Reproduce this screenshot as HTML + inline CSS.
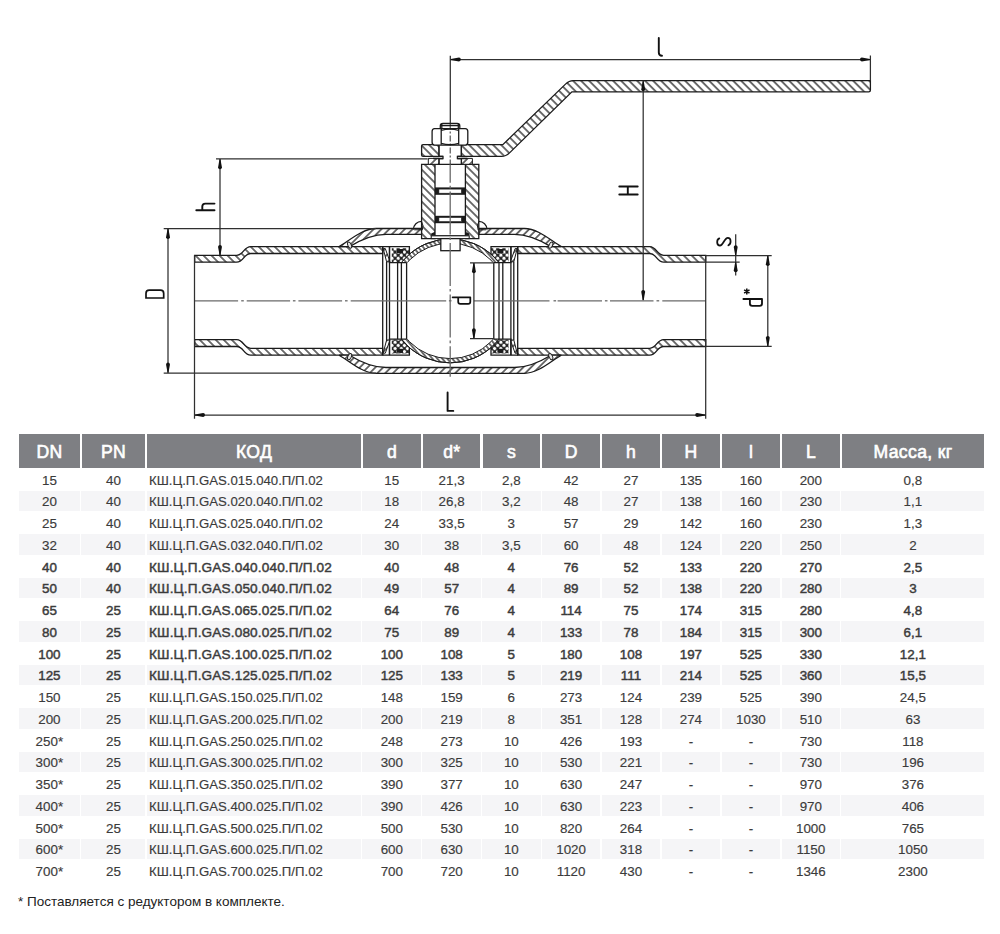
<!DOCTYPE html>
<html><head><meta charset="utf-8"><style>
html,body{margin:0;padding:0;background:#fff;}
body{width:1000px;height:934px;position:relative;overflow:hidden;font-family:"Liberation Sans",sans-serif;}
.hc{position:absolute;background:#7e7f83;color:#fff;font-size:17.6px;text-align:center;-webkit-text-stroke:0.6px #fff;letter-spacing:0.35px;text-indent:0.35px;}
.g{position:absolute;background:#f5f5f7;}
.c{position:absolute;height:21.75px;line-height:21.75px;font-size:13.4px;color:#3b3b3b;text-align:center;white-space:nowrap;-webkit-text-stroke:0.15px #3b3b3b;}
.c.b{-webkit-text-stroke:0.45px #3b3b3b;}
.c.k{text-align:left;font-size:13.2px;}
.c.b.k{font-size:13.6px;letter-spacing:0.15px;}
.fn{position:absolute;left:18px;top:892.5px;font-size:13.5px;color:#222;white-space:nowrap;line-height:18px;}
svg{position:absolute;left:0;top:0;}
</style></head><body>
<svg width="1000" height="430" viewBox="0 0 1000 430">
<defs>
<pattern id="hb" patternUnits="userSpaceOnUse" width="5.66" height="20" patternTransform="rotate(-45)"><rect width="5.66" height="20" fill="#fff"/><line x1="2.83" y1="0" x2="2.83" y2="20" stroke="#1b1b1b" stroke-width="1.25"/></pattern>
<pattern id="hf" patternUnits="userSpaceOnUse" width="5.5" height="20" patternTransform="rotate(45)"><rect width="5.5" height="20" fill="#fff"/><line x1="2.75" y1="0" x2="2.75" y2="20" stroke="#1b1b1b" stroke-width="1.25"/></pattern>
<pattern id="hs" patternUnits="userSpaceOnUse" width="3.8" height="20" patternTransform="rotate(-40)"><rect width="3.8" height="20" fill="#fff"/><line x1="1.9" y1="0" x2="1.9" y2="20" stroke="#1b1b1b" stroke-width="1.25"/></pattern>
<pattern id="kn" patternUnits="userSpaceOnUse" width="4.4" height="4.4" patternTransform="rotate(45)"><rect width="4.4" height="4.4" fill="#222"/><circle cx="2.2" cy="2.2" r="1.65" fill="#fff"/></pattern>
</defs>
<path d="M194.7,255.3 H236.7 C243.7,255.3 243.7,246.6 250.7,246.6 H382.7 V253.5 H250.7 C243.7,253.5 243.7,262.2 236.7,262.2 H194.7 Z" fill="url(#hb)" stroke="#1b1b1b" stroke-width="1.3"/>
<path d="M194.7,346.5 H236.7 C243.7,346.5 243.7,355.2 250.7,355.2 H382.7 V348.3 H250.7 C243.7,348.3 243.7,339.6 236.7,339.6 H194.7 Z" fill="url(#hb)" stroke="#1b1b1b" stroke-width="1.3"/>
<path d="M705.7,255.3 H663.7 C656.7,255.3 656.7,246.6 649.7,246.6 H517.7 V253.5 H649.7 C656.7,253.5 656.7,262.2 663.7,262.2 H705.7 Z" fill="url(#hb)" stroke="#1b1b1b" stroke-width="1.3"/>
<path d="M705.7,346.5 H663.7 C656.7,346.5 656.7,355.2 649.7,355.2 H517.7 V348.3 H649.7 C656.7,348.3 656.7,339.6 663.7,339.6 H705.7 Z" fill="url(#hb)" stroke="#1b1b1b" stroke-width="1.3"/>
<path d="M339.1,246.6 C349,241.2 362,228.5 376,228.5 H421.6 V234.3 H386 C370,234.3 357,242 349.5,246.6 Z" fill="url(#hf)" stroke="#1b1b1b" stroke-width="1.3"/>
<path d="M561.3,246.6 C551.4,241.2 538.4,228.5 524.4,228.5 H478.8 V234.3 H514.4 C530.4,234.3 543.4,242 550.9,246.6 Z" fill="url(#hf)" stroke="#1b1b1b" stroke-width="1.3"/>
<path d="M339.1,355.2 C349,360.6 362,373.3 376,373.3 H524.4 C538.4,373.3 551.4,360.6 561.3,355.2 L550.9,355.2 C543.4,359.8 530.4,367.5 514.4,367.5 H386 C370,367.5 357,359.8 349.5,355.2 Z" fill="url(#hf)" stroke="#1b1b1b" stroke-width="1.3"/>
<ellipse cx="349.6" cy="245.2" rx="1.7" ry="3.3" transform="rotate(-25 349.6 245.2)" fill="#e8e8e8" stroke="#1b1b1b" stroke-width="0.9"/>
<ellipse cx="349.6" cy="356.6" rx="1.7" ry="3.3" transform="rotate(25 349.6 356.6)" fill="#e8e8e8" stroke="#1b1b1b" stroke-width="0.9"/>
<ellipse cx="550.8" cy="245.2" rx="1.7" ry="3.3" transform="rotate(25 550.8 245.2)" fill="#e8e8e8" stroke="#1b1b1b" stroke-width="0.9"/>
<ellipse cx="550.8" cy="356.6" rx="1.7" ry="3.3" transform="rotate(-25 550.8 356.6)" fill="#e8e8e8" stroke="#1b1b1b" stroke-width="0.9"/>
<clipPath id="bc"><rect x="392" y="230" width="116.4" height="32.6"/><rect x="392" y="339.2" width="116.4" height="35"/></clipPath>
<path d="M388.2,300.9 A62,62 0 1 1 512.2,300.9 A62,62 0 1 1 388.2,300.9 Z M392.5,300.9 A57.7,57.7 0 1 0 507.9,300.9 A57.7,57.7 0 1 0 392.5,300.9 Z" fill="url(#hs)" fill-rule="evenodd" stroke="#1b1b1b" stroke-width="1" clip-path="url(#bc)"/>
<path d="M391.8,248.2 H409.4 V254.2 A62,62 0 0 0 401.6,262.2 H391.8 Z" fill="url(#kn)" stroke="none"/>
<path d="M397,249 H403 V253 H397 Z" fill="#1b1b1b"/>
<path d="M382.7,246.6 H409.4 V254.2 M406.6,262.6 H389.5 V246.6" fill="none" stroke="#1b1b1b" stroke-width="1.3"/>
<path d="M383.2,248.6 L385.3,248.6 L390,261.8 L386.6,261.8 Z" fill="url(#hf)" stroke="#1b1b1b" stroke-width="1"/>
<path d="M391.8,353.6 H409.4 V347.6 A62,62 0 0 1 401.6,339.6 H391.8 Z" fill="url(#kn)" stroke="none"/>
<path d="M397,352.8 H403 V348.8 H397 Z" fill="#1b1b1b"/>
<path d="M382.7,355.2 H409.4 V347.6 M406.6,339.2 H389.5 V355.2" fill="none" stroke="#1b1b1b" stroke-width="1.3"/>
<path d="M383.2,353.2 L385.3,353.2 L390,340 L386.6,340 Z" fill="url(#hf)" stroke="#1b1b1b" stroke-width="1"/>
<path d="M382.7,246.6 V355.2" fill="none" stroke="#1b1b1b" stroke-width="1.3"/>
<path d="M386.6,261.8 V340" fill="none" stroke="#1b1b1b" stroke-width="1.3"/>
<path d="M389.5,246.6 V355.2" fill="none" stroke="#1b1b1b" stroke-width="1.3"/>
<path d="M397.6,262.6 V339.2" fill="none" stroke="#1b1b1b" stroke-width="1.3"/>
<path d="M401.4,262.6 V339.2" fill="none" stroke="#1b1b1b" stroke-width="1.3"/>
<path d="M406.6,262.6 V339.2" fill="none" stroke="#1b1b1b" stroke-width="1.3"/>
<path d="M508.6,248.2 H491 V254.2 A62,62 0 0 1 498.8,262.2 H508.6 Z" fill="url(#kn)" stroke="none"/>
<path d="M503.4,249 H497.4 V253 H503.4 Z" fill="#1b1b1b"/>
<path d="M517.7,246.6 H491 V254.2 M493.8,262.6 H510.9 V246.6" fill="none" stroke="#1b1b1b" stroke-width="1.3"/>
<path d="M517.2,248.6 L515.1,248.6 L510.4,261.8 L513.8,261.8 Z" fill="url(#hf)" stroke="#1b1b1b" stroke-width="1"/>
<path d="M508.6,353.6 H491 V347.6 A62,62 0 0 0 498.8,339.6 H508.6 Z" fill="url(#kn)" stroke="none"/>
<path d="M503.4,352.8 H497.4 V348.8 H503.4 Z" fill="#1b1b1b"/>
<path d="M517.7,355.2 H491 V347.6 M493.8,339.2 H510.9 V355.2" fill="none" stroke="#1b1b1b" stroke-width="1.3"/>
<path d="M517.2,353.2 L515.1,353.2 L510.4,340 L513.8,340 Z" fill="url(#hf)" stroke="#1b1b1b" stroke-width="1"/>
<path d="M517.7,246.6 V355.2" fill="none" stroke="#1b1b1b" stroke-width="1.3"/>
<path d="M513.8,261.8 V340" fill="none" stroke="#1b1b1b" stroke-width="1.3"/>
<path d="M510.9,246.6 V355.2" fill="none" stroke="#1b1b1b" stroke-width="1.3"/>
<path d="M502.8,262.6 V339.2" fill="none" stroke="#1b1b1b" stroke-width="1.3"/>
<path d="M499.0,262.6 V339.2" fill="none" stroke="#1b1b1b" stroke-width="1.3"/>
<path d="M493.8,262.6 V339.2" fill="none" stroke="#1b1b1b" stroke-width="1.3"/>
<path d="M450.2,300.9 m-62,0 a62,62 0 1 1 124,0 a62,62 0 1 1 -124,0" fill="none" stroke="#1b1b1b" stroke-width="1" clip-path="url(#bc)"/>
<path d="M421.6,164.3 H435 V238.6 H421.6 Z" fill="url(#hb)" stroke="#1b1b1b" stroke-width="1.3"/>
<path d="M465.4,164.3 H478.8 V238.6 H465.4 Z" fill="url(#hb)" stroke="#1b1b1b" stroke-width="1.3"/>
<path d="M435,164.3 H465.4 M435,235.8 H465.4" fill="none" stroke="#1b1b1b" stroke-width="1.3"/>
<rect x="435" y="187.4" width="30.4" height="7.4" fill="#1b1b1b"/>
<rect x="438.9" y="189.1" width="22.5" height="4.1" fill="#fff" stroke="#1b1b1b" stroke-width="0.6"/>
<rect x="435" y="215.8" width="30.4" height="7.4" fill="#1b1b1b"/>
<rect x="438.9" y="217.5" width="22.5" height="4.1" fill="#fff" stroke="#1b1b1b" stroke-width="0.6"/>
<path d="M431.2,233.6 L435,231.8 L435,235.8 L431.2,235.8 Z M465.4,231.8 L469.2,233.6 L469.2,235.8 L465.4,235.8 Z" fill="#1b1b1b"/>
<rect x="431.2" y="235.8" width="38" height="2.8" fill="#fff" stroke="#1b1b1b" stroke-width="1.1"/>
<rect x="440.8" y="238.6" width="19.3" height="12.1" fill="#fff" stroke="#1b1b1b" stroke-width="1.3"/>
<path d="M421.5,221.4 A8.2,8.2 0 0 0 413.4,229.4" fill="none" stroke="#1b1b1b" stroke-width="1.25"/><path d="M421.5,221.4 Q424.2,225.6 422.2,230.2 M414.2,229.8 H422" fill="none" stroke="#1b1b1b" stroke-width="1"/>
<path d="M478.9,221.4 A8.2,8.2 0 0 1 487,229.4" fill="none" stroke="#1b1b1b" stroke-width="1.25"/><path d="M478.9,221.4 Q476.2,225.6 478.2,230.2 M486.2,229.8 H478.4" fill="none" stroke="#1b1b1b" stroke-width="1"/>
<path d="M428.3,158.4 H439 V164.3 H428.3 Z M461.4,158.4 H472.4 V164.3 H461.4 Z" fill="url(#hf)" stroke="#1b1b1b" stroke-width="1"/>
<path d="M439,145.5 V156.3 H443 V158.7 H439 V164.3 M461.4,145.5 V156.3 H457.4 V158.7 H461.4 V164.3" fill="none" stroke="#1b1b1b" stroke-width="1.3"/>
<path d="M433,156.4 H443 M457.4,156.4 H467.4 M433,158.5 H443 M457.4,158.5 H467.4" fill="none" stroke="#1b1b1b" stroke-width="1.3"/>
<path d="M423,144.7 H438.8 V156.4 H423 Q421.6,156.4 421.6,155 V146.1 Q421.6,144.7 423,144.7 Z M461.4,144.7 H502.8 L565.5,84.1 Q569.2,80.6 573,80.6 H870.4 V90.2 Q870.4,91.9 868.7,91.9 H571.9 L509.8,152.6 Q506,156.4 501.5,156.4 H461.4 Z" fill="url(#hb)" stroke="#1b1b1b" stroke-width="1.3"/>
<path d="M434.6,128.6 H465.3 Q467.8,128.6 467.8,131.5 V142.3 Q467.8,145.1 465.3,145.1 H434.6 Q432.1,145.1 432.1,142.3 V131.5 Q432.1,128.6 434.6,128.6 Z" fill="#fff" stroke="#1b1b1b" stroke-width="1.3"/>
<path d="M441.2,129 V144.7 M458.7,129 V144.7 M441.2,130.5 Q450,127.8 458.7,130.5 M441.2,143.3 Q450,146 458.7,143.3" fill="none" stroke="#1b1b1b" stroke-width="1.3"/>
<path d="M440.3,128.6 V126 Q440.3,123.5 443,123.5 H457.1 Q459.8,123.5 459.8,126 V128.6 M440.3,125.7 H459.8 M441.8,124 V128.6 M458.3,124 V128.6" fill="none" stroke="#1b1b1b" stroke-width="1.3"/>
<path d="M194.7,300.79999999999995 H238.1" stroke="#6a6a6a" stroke-width="1.3" fill="none"/>
<path d="M241.2,300.79999999999995 H243.8" stroke="#6a6a6a" stroke-width="1.3" fill="none"/>
<path d="M246.7,300.79999999999995 H290.1" stroke="#6a6a6a" stroke-width="1.3" fill="none"/>
<path d="M292.9,300.79999999999995 H295.5" stroke="#6a6a6a" stroke-width="1.3" fill="none"/>
<path d="M298.4,300.79999999999995 H342.1" stroke="#6a6a6a" stroke-width="1.3" fill="none"/>
<path d="M345,300.79999999999995 H347.6" stroke="#6a6a6a" stroke-width="1.3" fill="none"/>
<path d="M350.7,300.79999999999995 H446.2" stroke="#6a6a6a" stroke-width="1.3" fill="none"/>
<path d="M448.9,300.79999999999995 H451.5" stroke="#6a6a6a" stroke-width="1.3" fill="none"/>
<path d="M473.9,300.79999999999995 H549.5" stroke="#6a6a6a" stroke-width="1.3" fill="none"/>
<path d="M553.5,300.79999999999995 H556.1" stroke="#6a6a6a" stroke-width="1.3" fill="none"/>
<path d="M557.6,300.79999999999995 H602" stroke="#6a6a6a" stroke-width="1.3" fill="none"/>
<path d="M604.9,300.79999999999995 H607.5" stroke="#6a6a6a" stroke-width="1.3" fill="none"/>
<path d="M610,300.79999999999995 H653.5" stroke="#6a6a6a" stroke-width="1.3" fill="none"/>
<path d="M656.5,300.79999999999995 H659.2" stroke="#6a6a6a" stroke-width="1.3" fill="none"/>
<path d="M662.3,300.79999999999995 H705.5" stroke="#6a6a6a" stroke-width="1.3" fill="none"/>
<path d="M450.2,164.3 V376.8" stroke="#6a6a6a" stroke-width="1.3" fill="none" stroke-dasharray="43 3 2.6 3" stroke-dashoffset="24.5"/>
<path d="M450.3,55.7 V123.5" stroke="#303030" stroke-width="1.25" fill="none"/>
<path d="M450.2,123.5 V164.3" stroke="#1b1b1b" stroke-width="0.9" stroke-dasharray="6 2 2 2"/>
<path d="M450.3,59.5 H870.4 M870.4,55.5 V80.6" stroke="#303030" stroke-width="1.25" fill="none"/>
<path d="M450.80,59.00 L459.00,57.55 Q460.80,57.74 460.80,59.50 Q460.80,61.26 459.00,61.45 L450.80,60.00 Z" fill="#111"/>
<path d="M870.00,59.00 L861.80,57.55 Q860.00,57.74 860.00,59.50 Q860.00,61.26 861.80,61.45 L870.00,60.00 Z" fill="#111"/>
<path d="M658.8,38 V52.5 Q658.8,55.7 662,55.7" fill="none" stroke="#111" stroke-width="1.9" stroke-linecap="round"/>
<path d="M216,158.8 H427.6 M220,158.8 V255.3" stroke="#303030" stroke-width="1.25" fill="none"/>
<path d="M219.50,159.20 L218.05,167.40 Q218.25,169.20 220.00,169.20 Q221.75,169.20 221.95,167.40 L220.50,159.20 Z" fill="#111"/>
<path d="M219.50,254.90 L218.05,246.70 Q218.25,244.90 220.00,244.90 Q221.75,244.90 221.95,246.70 L220.50,254.90 Z" fill="#111"/>
<path d="M196.3,210.3 H214.5 M214.5,203.6 H205.3 Q202.3,203.6 202.3,206.6 V210.3" fill="none" stroke="#111" stroke-width="1.9" stroke-linecap="round"/>
<path d="M163.7,228.5 H376 M163.7,373.2 H376 M168,228.5 V373.2" stroke="#303030" stroke-width="1.25" fill="none"/>
<path d="M167.50,229.00 L166.05,237.20 Q166.25,239.00 168.00,239.00 Q169.75,239.00 169.95,237.20 L168.50,229.00 Z" fill="#111"/>
<path d="M167.50,372.60 L166.05,364.40 Q166.25,362.60 168.00,362.60 Q169.75,362.60 169.95,364.40 L168.50,372.60 Z" fill="#111"/>
<path d="M146,298 H163.7 V293.5 Q163.7,290.2 160.4,290.2 H149.3 Q146,290.2 146,293.5 Z" fill="none" stroke="#111" stroke-width="1.7"/>
<path d="M194.5,255.3 V418.8 M705.7,255.3 V418.8 M194.5,415 H705.7" stroke="#303030" stroke-width="1.25" fill="none"/>
<path d="M195.00,414.50 L203.20,413.05 Q205.00,413.25 205.00,415.00 Q205.00,416.75 203.20,416.95 L195.00,415.50 Z" fill="#111"/>
<path d="M705.20,414.50 L697.00,413.05 Q695.20,413.25 695.20,415.00 Q695.20,416.75 697.00,416.95 L705.20,415.50 Z" fill="#111"/>
<path d="M447.6,392.4 V410.9 H453.3" fill="none" stroke="#111" stroke-width="1.9" stroke-linecap="round" stroke-linejoin="round"/>
<path d="M643.2,80.6 V300.3" stroke="#303030" stroke-width="1.25" fill="none"/>
<path d="M642.70,81.20 L641.25,89.40 Q641.45,91.20 643.20,91.20 Q644.96,91.20 645.15,89.40 L643.70,81.20 Z" fill="#111"/>
<path d="M642.70,300.00 L641.25,291.80 Q641.45,290.00 643.20,290.00 Q644.96,290.00 645.15,291.80 L643.70,300.00 Z" fill="#111"/>
<path d="M619.3,186.5 H637.7 M619.3,194.5 H637.7 M627.8,186.5 V194.5" fill="none" stroke="#111" stroke-width="1.9" stroke-linecap="round"/>
<path d="M470,262.8 H493.7 M470,338.6 H493.7 M473.9,262.8 V338.6" stroke="#303030" stroke-width="1.25" fill="none"/>
<path d="M473.40,263.20 L471.95,271.40 Q472.14,273.20 473.90,273.20 Q475.65,273.20 475.85,271.40 L474.40,263.20 Z" fill="#111"/>
<path d="M473.40,338.20 L471.95,330.00 Q472.14,328.20 473.90,328.20 Q475.65,328.20 475.85,330.00 L474.40,338.20 Z" fill="#111"/>
<path d="M452.6,297.3 H470.3 M458.2,297.3 V301.8 Q458.2,303.9 460.3,303.9 H468.2 Q470.3,303.9 470.3,301.8 V297.3" fill="none" stroke="#111" stroke-width="1.75" stroke-linecap="round"/>
<path d="M705.7,255.5 H771.7 M705.7,346.4 H771.7 M767.8,255.5 V346.4 M705.7,262.1 H739.7 M735.7,234.2 V275.5" stroke="#303030" stroke-width="1.25" fill="none"/>
<path d="M767.30,256.00 L765.85,264.20 Q766.04,266.00 767.80,266.00 Q769.55,266.00 769.75,264.20 L768.30,256.00 Z" fill="#111"/>
<path d="M767.30,346.00 L765.85,337.80 Q766.04,336.00 767.80,336.00 Q769.55,336.00 769.75,337.80 L768.30,346.00 Z" fill="#111"/>
<path d="M735.20,255.30 L733.75,247.10 Q733.95,245.30 735.70,245.30 Q737.46,245.30 737.65,247.10 L736.20,255.30 Z" fill="#111"/>
<path d="M735.20,262.30 L733.75,270.50 Q733.95,272.30 735.70,272.30 Q737.46,272.30 737.65,270.50 L736.20,262.30 Z" fill="#111"/>
<path d="M743.4,299 H762 M749.9,299 V303.5 Q749.9,305.8 752.2,305.8 H759.7 Q762,305.8 762,303.5 V299" fill="none" stroke="#111" stroke-width="1.85" stroke-linecap="round"/>
<path d="M746.8,288.4 V294.5 M744.1,289.9 L749.5,293 M749.5,289.9 L744.1,293" fill="none" stroke="#111" stroke-width="1.55"/>
<path d="M719.3,238.4 C716.3,239.6 716.4,245.5 720,245.5 C723.2,245.5 724.4,237.8 727.8,237.8 C731.4,237.8 731.4,243.8 728.4,245.3" fill="none" stroke="#111" stroke-width="1.75" stroke-linecap="round"/>
</svg>
<div class="hc" style="left:19px;width:60.8px;top:434px;height:34px;line-height:37px">DN</div>
<div class="hc" style="left:81.8px;width:63.2px;top:434px;height:34px;line-height:37px">PN</div>
<div class="hc" style="left:147px;width:213.8px;top:434px;height:34px;line-height:37px">КОД</div>
<div class="hc" style="left:362.8px;width:58.0px;top:434px;height:34px;line-height:37px">d</div>
<div class="hc" style="left:422.8px;width:57.69999999999999px;top:434px;height:34px;line-height:37px">d*</div>
<div class="hc" style="left:482.5px;width:57.700000000000045px;top:434px;height:34px;line-height:37px">s</div>
<div class="hc" style="left:542.2px;width:57.799999999999955px;top:434px;height:34px;line-height:37px">D</div>
<div class="hc" style="left:602px;width:57.89999999999998px;top:434px;height:34px;line-height:37px">h</div>
<div class="hc" style="left:661.9px;width:58.0px;top:434px;height:34px;line-height:37px">H</div>
<div class="hc" style="left:721.9px;width:58.0px;top:434px;height:34px;line-height:37px">l</div>
<div class="hc" style="left:781.9px;width:57.89999999999998px;top:434px;height:34px;line-height:37px">L</div>
<div class="hc" style="left:841.8px;width:142.20000000000005px;top:434px;height:34px;line-height:37px">Масса, кг</div>
<div class="c" style="left:19px;width:60.8px;top:469.55px">15</div>
<div class="c" style="left:81.8px;width:63.2px;top:469.55px">40</div>
<div class="c k" style="left:149px;top:469.55px">КШ.Ц.П.GAS.015.040.П/П.02</div>
<div class="c" style="left:362.8px;width:58.0px;top:469.55px">15</div>
<div class="c" style="left:422.8px;width:57.69999999999999px;top:469.55px">21,3</div>
<div class="c" style="left:482.5px;width:57.700000000000045px;top:469.55px">2,8</div>
<div class="c" style="left:542.2px;width:57.799999999999955px;top:469.55px">42</div>
<div class="c" style="left:602px;width:57.89999999999998px;top:469.55px">27</div>
<div class="c" style="left:661.9px;width:58.0px;top:469.55px">135</div>
<div class="c" style="left:721.9px;width:58.0px;top:469.55px">160</div>
<div class="c" style="left:781.9px;width:57.89999999999998px;top:469.55px">200</div>
<div class="c" style="left:841.8px;width:142.20000000000005px;top:469.55px">0,8</div>
<div class="g" style="left:19px;width:61.20px;top:490.50px;height:20.5px"></div>
<div class="g" style="left:81.39999999999999px;width:64.00px;top:490.50px;height:20.5px"></div>
<div class="g" style="left:146.6px;width:214.60px;top:490.50px;height:20.5px"></div>
<div class="g" style="left:362.40000000000003px;width:58.80px;top:490.50px;height:20.5px"></div>
<div class="g" style="left:422.40000000000003px;width:58.50px;top:490.50px;height:20.5px"></div>
<div class="g" style="left:482.1px;width:58.50px;top:490.50px;height:20.5px"></div>
<div class="g" style="left:541.8000000000001px;width:58.60px;top:490.50px;height:20.5px"></div>
<div class="g" style="left:601.6px;width:58.70px;top:490.50px;height:20.5px"></div>
<div class="g" style="left:661.5px;width:58.80px;top:490.50px;height:20.5px"></div>
<div class="g" style="left:721.5px;width:58.80px;top:490.50px;height:20.5px"></div>
<div class="g" style="left:781.5px;width:58.70px;top:490.50px;height:20.5px"></div>
<div class="g" style="left:841.4px;width:142.60px;top:490.50px;height:20.5px"></div>
<div class="c" style="left:19px;width:60.8px;top:491.30px">20</div>
<div class="c" style="left:81.8px;width:63.2px;top:491.30px">40</div>
<div class="c k" style="left:149px;top:491.30px">КШ.Ц.П.GAS.020.040.П/П.02</div>
<div class="c" style="left:362.8px;width:58.0px;top:491.30px">18</div>
<div class="c" style="left:422.8px;width:57.69999999999999px;top:491.30px">26,8</div>
<div class="c" style="left:482.5px;width:57.700000000000045px;top:491.30px">3,2</div>
<div class="c" style="left:542.2px;width:57.799999999999955px;top:491.30px">48</div>
<div class="c" style="left:602px;width:57.89999999999998px;top:491.30px">27</div>
<div class="c" style="left:661.9px;width:58.0px;top:491.30px">138</div>
<div class="c" style="left:721.9px;width:58.0px;top:491.30px">160</div>
<div class="c" style="left:781.9px;width:57.89999999999998px;top:491.30px">230</div>
<div class="c" style="left:841.8px;width:142.20000000000005px;top:491.30px">1,1</div>
<div class="c" style="left:19px;width:60.8px;top:513.05px">25</div>
<div class="c" style="left:81.8px;width:63.2px;top:513.05px">40</div>
<div class="c k" style="left:149px;top:513.05px">КШ.Ц.П.GAS.025.040.П/П.02</div>
<div class="c" style="left:362.8px;width:58.0px;top:513.05px">24</div>
<div class="c" style="left:422.8px;width:57.69999999999999px;top:513.05px">33,5</div>
<div class="c" style="left:482.5px;width:57.700000000000045px;top:513.05px">3</div>
<div class="c" style="left:542.2px;width:57.799999999999955px;top:513.05px">57</div>
<div class="c" style="left:602px;width:57.89999999999998px;top:513.05px">29</div>
<div class="c" style="left:661.9px;width:58.0px;top:513.05px">142</div>
<div class="c" style="left:721.9px;width:58.0px;top:513.05px">160</div>
<div class="c" style="left:781.9px;width:57.89999999999998px;top:513.05px">230</div>
<div class="c" style="left:841.8px;width:142.20000000000005px;top:513.05px">1,3</div>
<div class="g" style="left:19px;width:61.20px;top:534.00px;height:20.5px"></div>
<div class="g" style="left:81.39999999999999px;width:64.00px;top:534.00px;height:20.5px"></div>
<div class="g" style="left:146.6px;width:214.60px;top:534.00px;height:20.5px"></div>
<div class="g" style="left:362.40000000000003px;width:58.80px;top:534.00px;height:20.5px"></div>
<div class="g" style="left:422.40000000000003px;width:58.50px;top:534.00px;height:20.5px"></div>
<div class="g" style="left:482.1px;width:58.50px;top:534.00px;height:20.5px"></div>
<div class="g" style="left:541.8000000000001px;width:58.60px;top:534.00px;height:20.5px"></div>
<div class="g" style="left:601.6px;width:58.70px;top:534.00px;height:20.5px"></div>
<div class="g" style="left:661.5px;width:58.80px;top:534.00px;height:20.5px"></div>
<div class="g" style="left:721.5px;width:58.80px;top:534.00px;height:20.5px"></div>
<div class="g" style="left:781.5px;width:58.70px;top:534.00px;height:20.5px"></div>
<div class="g" style="left:841.4px;width:142.60px;top:534.00px;height:20.5px"></div>
<div class="c" style="left:19px;width:60.8px;top:534.80px">32</div>
<div class="c" style="left:81.8px;width:63.2px;top:534.80px">40</div>
<div class="c k" style="left:149px;top:534.80px">КШ.Ц.П.GAS.032.040.П/П.02</div>
<div class="c" style="left:362.8px;width:58.0px;top:534.80px">30</div>
<div class="c" style="left:422.8px;width:57.69999999999999px;top:534.80px">38</div>
<div class="c" style="left:482.5px;width:57.700000000000045px;top:534.80px">3,5</div>
<div class="c" style="left:542.2px;width:57.799999999999955px;top:534.80px">60</div>
<div class="c" style="left:602px;width:57.89999999999998px;top:534.80px">48</div>
<div class="c" style="left:661.9px;width:58.0px;top:534.80px">124</div>
<div class="c" style="left:721.9px;width:58.0px;top:534.80px">220</div>
<div class="c" style="left:781.9px;width:57.89999999999998px;top:534.80px">250</div>
<div class="c" style="left:841.8px;width:142.20000000000005px;top:534.80px">2</div>
<div class="c b" style="left:19px;width:60.8px;top:556.55px">40</div>
<div class="c b" style="left:81.8px;width:63.2px;top:556.55px">40</div>
<div class="c b k" style="left:149px;top:556.55px">КШ.Ц.П.GAS.040.040.П/П.02</div>
<div class="c b" style="left:362.8px;width:58.0px;top:556.55px">40</div>
<div class="c b" style="left:422.8px;width:57.69999999999999px;top:556.55px">48</div>
<div class="c b" style="left:482.5px;width:57.700000000000045px;top:556.55px">4</div>
<div class="c b" style="left:542.2px;width:57.799999999999955px;top:556.55px">76</div>
<div class="c b" style="left:602px;width:57.89999999999998px;top:556.55px">52</div>
<div class="c b" style="left:661.9px;width:58.0px;top:556.55px">133</div>
<div class="c b" style="left:721.9px;width:58.0px;top:556.55px">220</div>
<div class="c b" style="left:781.9px;width:57.89999999999998px;top:556.55px">270</div>
<div class="c b" style="left:841.8px;width:142.20000000000005px;top:556.55px">2,5</div>
<div class="g" style="left:19px;width:61.20px;top:577.50px;height:20.5px"></div>
<div class="g" style="left:81.39999999999999px;width:64.00px;top:577.50px;height:20.5px"></div>
<div class="g" style="left:146.6px;width:214.60px;top:577.50px;height:20.5px"></div>
<div class="g" style="left:362.40000000000003px;width:58.80px;top:577.50px;height:20.5px"></div>
<div class="g" style="left:422.40000000000003px;width:58.50px;top:577.50px;height:20.5px"></div>
<div class="g" style="left:482.1px;width:58.50px;top:577.50px;height:20.5px"></div>
<div class="g" style="left:541.8000000000001px;width:58.60px;top:577.50px;height:20.5px"></div>
<div class="g" style="left:601.6px;width:58.70px;top:577.50px;height:20.5px"></div>
<div class="g" style="left:661.5px;width:58.80px;top:577.50px;height:20.5px"></div>
<div class="g" style="left:721.5px;width:58.80px;top:577.50px;height:20.5px"></div>
<div class="g" style="left:781.5px;width:58.70px;top:577.50px;height:20.5px"></div>
<div class="g" style="left:841.4px;width:142.60px;top:577.50px;height:20.5px"></div>
<div class="c b" style="left:19px;width:60.8px;top:578.30px">50</div>
<div class="c b" style="left:81.8px;width:63.2px;top:578.30px">40</div>
<div class="c b k" style="left:149px;top:578.30px">КШ.Ц.П.GAS.050.040.П/П.02</div>
<div class="c b" style="left:362.8px;width:58.0px;top:578.30px">49</div>
<div class="c b" style="left:422.8px;width:57.69999999999999px;top:578.30px">57</div>
<div class="c b" style="left:482.5px;width:57.700000000000045px;top:578.30px">4</div>
<div class="c b" style="left:542.2px;width:57.799999999999955px;top:578.30px">89</div>
<div class="c b" style="left:602px;width:57.89999999999998px;top:578.30px">52</div>
<div class="c b" style="left:661.9px;width:58.0px;top:578.30px">138</div>
<div class="c b" style="left:721.9px;width:58.0px;top:578.30px">220</div>
<div class="c b" style="left:781.9px;width:57.89999999999998px;top:578.30px">280</div>
<div class="c b" style="left:841.8px;width:142.20000000000005px;top:578.30px">3</div>
<div class="c b" style="left:19px;width:60.8px;top:600.05px">65</div>
<div class="c b" style="left:81.8px;width:63.2px;top:600.05px">25</div>
<div class="c b k" style="left:149px;top:600.05px">КШ.Ц.П.GAS.065.025.П/П.02</div>
<div class="c b" style="left:362.8px;width:58.0px;top:600.05px">64</div>
<div class="c b" style="left:422.8px;width:57.69999999999999px;top:600.05px">76</div>
<div class="c b" style="left:482.5px;width:57.700000000000045px;top:600.05px">4</div>
<div class="c b" style="left:542.2px;width:57.799999999999955px;top:600.05px">114</div>
<div class="c b" style="left:602px;width:57.89999999999998px;top:600.05px">75</div>
<div class="c b" style="left:661.9px;width:58.0px;top:600.05px">174</div>
<div class="c b" style="left:721.9px;width:58.0px;top:600.05px">315</div>
<div class="c b" style="left:781.9px;width:57.89999999999998px;top:600.05px">280</div>
<div class="c b" style="left:841.8px;width:142.20000000000005px;top:600.05px">4,8</div>
<div class="g" style="left:19px;width:61.20px;top:621.00px;height:20.5px"></div>
<div class="g" style="left:81.39999999999999px;width:64.00px;top:621.00px;height:20.5px"></div>
<div class="g" style="left:146.6px;width:214.60px;top:621.00px;height:20.5px"></div>
<div class="g" style="left:362.40000000000003px;width:58.80px;top:621.00px;height:20.5px"></div>
<div class="g" style="left:422.40000000000003px;width:58.50px;top:621.00px;height:20.5px"></div>
<div class="g" style="left:482.1px;width:58.50px;top:621.00px;height:20.5px"></div>
<div class="g" style="left:541.8000000000001px;width:58.60px;top:621.00px;height:20.5px"></div>
<div class="g" style="left:601.6px;width:58.70px;top:621.00px;height:20.5px"></div>
<div class="g" style="left:661.5px;width:58.80px;top:621.00px;height:20.5px"></div>
<div class="g" style="left:721.5px;width:58.80px;top:621.00px;height:20.5px"></div>
<div class="g" style="left:781.5px;width:58.70px;top:621.00px;height:20.5px"></div>
<div class="g" style="left:841.4px;width:142.60px;top:621.00px;height:20.5px"></div>
<div class="c b" style="left:19px;width:60.8px;top:621.80px">80</div>
<div class="c b" style="left:81.8px;width:63.2px;top:621.80px">25</div>
<div class="c b k" style="left:149px;top:621.80px">КШ.Ц.П.GAS.080.025.П/П.02</div>
<div class="c b" style="left:362.8px;width:58.0px;top:621.80px">75</div>
<div class="c b" style="left:422.8px;width:57.69999999999999px;top:621.80px">89</div>
<div class="c b" style="left:482.5px;width:57.700000000000045px;top:621.80px">4</div>
<div class="c b" style="left:542.2px;width:57.799999999999955px;top:621.80px">133</div>
<div class="c b" style="left:602px;width:57.89999999999998px;top:621.80px">78</div>
<div class="c b" style="left:661.9px;width:58.0px;top:621.80px">184</div>
<div class="c b" style="left:721.9px;width:58.0px;top:621.80px">315</div>
<div class="c b" style="left:781.9px;width:57.89999999999998px;top:621.80px">300</div>
<div class="c b" style="left:841.8px;width:142.20000000000005px;top:621.80px">6,1</div>
<div class="c b" style="left:19px;width:60.8px;top:643.55px">100</div>
<div class="c b" style="left:81.8px;width:63.2px;top:643.55px">25</div>
<div class="c b k" style="left:149px;top:643.55px">КШ.Ц.П.GAS.100.025.П/П.02</div>
<div class="c b" style="left:362.8px;width:58.0px;top:643.55px">100</div>
<div class="c b" style="left:422.8px;width:57.69999999999999px;top:643.55px">108</div>
<div class="c b" style="left:482.5px;width:57.700000000000045px;top:643.55px">5</div>
<div class="c b" style="left:542.2px;width:57.799999999999955px;top:643.55px">180</div>
<div class="c b" style="left:602px;width:57.89999999999998px;top:643.55px">108</div>
<div class="c b" style="left:661.9px;width:58.0px;top:643.55px">197</div>
<div class="c b" style="left:721.9px;width:58.0px;top:643.55px">525</div>
<div class="c b" style="left:781.9px;width:57.89999999999998px;top:643.55px">330</div>
<div class="c b" style="left:841.8px;width:142.20000000000005px;top:643.55px">12,1</div>
<div class="g" style="left:19px;width:61.20px;top:664.50px;height:20.5px"></div>
<div class="g" style="left:81.39999999999999px;width:64.00px;top:664.50px;height:20.5px"></div>
<div class="g" style="left:146.6px;width:214.60px;top:664.50px;height:20.5px"></div>
<div class="g" style="left:362.40000000000003px;width:58.80px;top:664.50px;height:20.5px"></div>
<div class="g" style="left:422.40000000000003px;width:58.50px;top:664.50px;height:20.5px"></div>
<div class="g" style="left:482.1px;width:58.50px;top:664.50px;height:20.5px"></div>
<div class="g" style="left:541.8000000000001px;width:58.60px;top:664.50px;height:20.5px"></div>
<div class="g" style="left:601.6px;width:58.70px;top:664.50px;height:20.5px"></div>
<div class="g" style="left:661.5px;width:58.80px;top:664.50px;height:20.5px"></div>
<div class="g" style="left:721.5px;width:58.80px;top:664.50px;height:20.5px"></div>
<div class="g" style="left:781.5px;width:58.70px;top:664.50px;height:20.5px"></div>
<div class="g" style="left:841.4px;width:142.60px;top:664.50px;height:20.5px"></div>
<div class="c b" style="left:19px;width:60.8px;top:665.30px">125</div>
<div class="c b" style="left:81.8px;width:63.2px;top:665.30px">25</div>
<div class="c b k" style="left:149px;top:665.30px">КШ.Ц.П.GAS.125.025.П/П.02</div>
<div class="c b" style="left:362.8px;width:58.0px;top:665.30px">125</div>
<div class="c b" style="left:422.8px;width:57.69999999999999px;top:665.30px">133</div>
<div class="c b" style="left:482.5px;width:57.700000000000045px;top:665.30px">5</div>
<div class="c b" style="left:542.2px;width:57.799999999999955px;top:665.30px">219</div>
<div class="c b" style="left:602px;width:57.89999999999998px;top:665.30px">111</div>
<div class="c b" style="left:661.9px;width:58.0px;top:665.30px">214</div>
<div class="c b" style="left:721.9px;width:58.0px;top:665.30px">525</div>
<div class="c b" style="left:781.9px;width:57.89999999999998px;top:665.30px">360</div>
<div class="c b" style="left:841.8px;width:142.20000000000005px;top:665.30px">15,5</div>
<div class="c" style="left:19px;width:60.8px;top:687.05px">150</div>
<div class="c" style="left:81.8px;width:63.2px;top:687.05px">25</div>
<div class="c k" style="left:149px;top:687.05px">КШ.Ц.П.GAS.150.025.П/П.02</div>
<div class="c" style="left:362.8px;width:58.0px;top:687.05px">148</div>
<div class="c" style="left:422.8px;width:57.69999999999999px;top:687.05px">159</div>
<div class="c" style="left:482.5px;width:57.700000000000045px;top:687.05px">6</div>
<div class="c" style="left:542.2px;width:57.799999999999955px;top:687.05px">273</div>
<div class="c" style="left:602px;width:57.89999999999998px;top:687.05px">124</div>
<div class="c" style="left:661.9px;width:58.0px;top:687.05px">239</div>
<div class="c" style="left:721.9px;width:58.0px;top:687.05px">525</div>
<div class="c" style="left:781.9px;width:57.89999999999998px;top:687.05px">390</div>
<div class="c" style="left:841.8px;width:142.20000000000005px;top:687.05px">24,5</div>
<div class="g" style="left:19px;width:61.20px;top:708.00px;height:20.5px"></div>
<div class="g" style="left:81.39999999999999px;width:64.00px;top:708.00px;height:20.5px"></div>
<div class="g" style="left:146.6px;width:214.60px;top:708.00px;height:20.5px"></div>
<div class="g" style="left:362.40000000000003px;width:58.80px;top:708.00px;height:20.5px"></div>
<div class="g" style="left:422.40000000000003px;width:58.50px;top:708.00px;height:20.5px"></div>
<div class="g" style="left:482.1px;width:58.50px;top:708.00px;height:20.5px"></div>
<div class="g" style="left:541.8000000000001px;width:58.60px;top:708.00px;height:20.5px"></div>
<div class="g" style="left:601.6px;width:58.70px;top:708.00px;height:20.5px"></div>
<div class="g" style="left:661.5px;width:58.80px;top:708.00px;height:20.5px"></div>
<div class="g" style="left:721.5px;width:58.80px;top:708.00px;height:20.5px"></div>
<div class="g" style="left:781.5px;width:58.70px;top:708.00px;height:20.5px"></div>
<div class="g" style="left:841.4px;width:142.60px;top:708.00px;height:20.5px"></div>
<div class="c" style="left:19px;width:60.8px;top:708.80px">200</div>
<div class="c" style="left:81.8px;width:63.2px;top:708.80px">25</div>
<div class="c k" style="left:149px;top:708.80px">КШ.Ц.П.GAS.200.025.П/П.02</div>
<div class="c" style="left:362.8px;width:58.0px;top:708.80px">200</div>
<div class="c" style="left:422.8px;width:57.69999999999999px;top:708.80px">219</div>
<div class="c" style="left:482.5px;width:57.700000000000045px;top:708.80px">8</div>
<div class="c" style="left:542.2px;width:57.799999999999955px;top:708.80px">351</div>
<div class="c" style="left:602px;width:57.89999999999998px;top:708.80px">128</div>
<div class="c" style="left:661.9px;width:58.0px;top:708.80px">274</div>
<div class="c" style="left:721.9px;width:58.0px;top:708.80px">1030</div>
<div class="c" style="left:781.9px;width:57.89999999999998px;top:708.80px">510</div>
<div class="c" style="left:841.8px;width:142.20000000000005px;top:708.80px">63</div>
<div class="c" style="left:19px;width:60.8px;top:730.55px">250*</div>
<div class="c" style="left:81.8px;width:63.2px;top:730.55px">25</div>
<div class="c k" style="left:149px;top:730.55px">КШ.Ц.П.GAS.250.025.П/П.02</div>
<div class="c" style="left:362.8px;width:58.0px;top:730.55px">248</div>
<div class="c" style="left:422.8px;width:57.69999999999999px;top:730.55px">273</div>
<div class="c" style="left:482.5px;width:57.700000000000045px;top:730.55px">10</div>
<div class="c" style="left:542.2px;width:57.799999999999955px;top:730.55px">426</div>
<div class="c" style="left:602px;width:57.89999999999998px;top:730.55px">193</div>
<div class="c" style="left:661.9px;width:58.0px;top:730.55px">-</div>
<div class="c" style="left:721.9px;width:58.0px;top:730.55px">-</div>
<div class="c" style="left:781.9px;width:57.89999999999998px;top:730.55px">730</div>
<div class="c" style="left:841.8px;width:142.20000000000005px;top:730.55px">118</div>
<div class="g" style="left:19px;width:61.20px;top:751.50px;height:20.5px"></div>
<div class="g" style="left:81.39999999999999px;width:64.00px;top:751.50px;height:20.5px"></div>
<div class="g" style="left:146.6px;width:214.60px;top:751.50px;height:20.5px"></div>
<div class="g" style="left:362.40000000000003px;width:58.80px;top:751.50px;height:20.5px"></div>
<div class="g" style="left:422.40000000000003px;width:58.50px;top:751.50px;height:20.5px"></div>
<div class="g" style="left:482.1px;width:58.50px;top:751.50px;height:20.5px"></div>
<div class="g" style="left:541.8000000000001px;width:58.60px;top:751.50px;height:20.5px"></div>
<div class="g" style="left:601.6px;width:58.70px;top:751.50px;height:20.5px"></div>
<div class="g" style="left:661.5px;width:58.80px;top:751.50px;height:20.5px"></div>
<div class="g" style="left:721.5px;width:58.80px;top:751.50px;height:20.5px"></div>
<div class="g" style="left:781.5px;width:58.70px;top:751.50px;height:20.5px"></div>
<div class="g" style="left:841.4px;width:142.60px;top:751.50px;height:20.5px"></div>
<div class="c" style="left:19px;width:60.8px;top:752.30px">300*</div>
<div class="c" style="left:81.8px;width:63.2px;top:752.30px">25</div>
<div class="c k" style="left:149px;top:752.30px">КШ.Ц.П.GAS.300.025.П/П.02</div>
<div class="c" style="left:362.8px;width:58.0px;top:752.30px">300</div>
<div class="c" style="left:422.8px;width:57.69999999999999px;top:752.30px">325</div>
<div class="c" style="left:482.5px;width:57.700000000000045px;top:752.30px">10</div>
<div class="c" style="left:542.2px;width:57.799999999999955px;top:752.30px">530</div>
<div class="c" style="left:602px;width:57.89999999999998px;top:752.30px">221</div>
<div class="c" style="left:661.9px;width:58.0px;top:752.30px">-</div>
<div class="c" style="left:721.9px;width:58.0px;top:752.30px">-</div>
<div class="c" style="left:781.9px;width:57.89999999999998px;top:752.30px">730</div>
<div class="c" style="left:841.8px;width:142.20000000000005px;top:752.30px">196</div>
<div class="c" style="left:19px;width:60.8px;top:774.05px">350*</div>
<div class="c" style="left:81.8px;width:63.2px;top:774.05px">25</div>
<div class="c k" style="left:149px;top:774.05px">КШ.Ц.П.GAS.350.025.П/П.02</div>
<div class="c" style="left:362.8px;width:58.0px;top:774.05px">390</div>
<div class="c" style="left:422.8px;width:57.69999999999999px;top:774.05px">377</div>
<div class="c" style="left:482.5px;width:57.700000000000045px;top:774.05px">10</div>
<div class="c" style="left:542.2px;width:57.799999999999955px;top:774.05px">630</div>
<div class="c" style="left:602px;width:57.89999999999998px;top:774.05px">247</div>
<div class="c" style="left:661.9px;width:58.0px;top:774.05px">-</div>
<div class="c" style="left:721.9px;width:58.0px;top:774.05px">-</div>
<div class="c" style="left:781.9px;width:57.89999999999998px;top:774.05px">970</div>
<div class="c" style="left:841.8px;width:142.20000000000005px;top:774.05px">376</div>
<div class="g" style="left:19px;width:61.20px;top:795.00px;height:20.5px"></div>
<div class="g" style="left:81.39999999999999px;width:64.00px;top:795.00px;height:20.5px"></div>
<div class="g" style="left:146.6px;width:214.60px;top:795.00px;height:20.5px"></div>
<div class="g" style="left:362.40000000000003px;width:58.80px;top:795.00px;height:20.5px"></div>
<div class="g" style="left:422.40000000000003px;width:58.50px;top:795.00px;height:20.5px"></div>
<div class="g" style="left:482.1px;width:58.50px;top:795.00px;height:20.5px"></div>
<div class="g" style="left:541.8000000000001px;width:58.60px;top:795.00px;height:20.5px"></div>
<div class="g" style="left:601.6px;width:58.70px;top:795.00px;height:20.5px"></div>
<div class="g" style="left:661.5px;width:58.80px;top:795.00px;height:20.5px"></div>
<div class="g" style="left:721.5px;width:58.80px;top:795.00px;height:20.5px"></div>
<div class="g" style="left:781.5px;width:58.70px;top:795.00px;height:20.5px"></div>
<div class="g" style="left:841.4px;width:142.60px;top:795.00px;height:20.5px"></div>
<div class="c" style="left:19px;width:60.8px;top:795.80px">400*</div>
<div class="c" style="left:81.8px;width:63.2px;top:795.80px">25</div>
<div class="c k" style="left:149px;top:795.80px">КШ.Ц.П.GAS.400.025.П/П.02</div>
<div class="c" style="left:362.8px;width:58.0px;top:795.80px">390</div>
<div class="c" style="left:422.8px;width:57.69999999999999px;top:795.80px">426</div>
<div class="c" style="left:482.5px;width:57.700000000000045px;top:795.80px">10</div>
<div class="c" style="left:542.2px;width:57.799999999999955px;top:795.80px">630</div>
<div class="c" style="left:602px;width:57.89999999999998px;top:795.80px">223</div>
<div class="c" style="left:661.9px;width:58.0px;top:795.80px">-</div>
<div class="c" style="left:721.9px;width:58.0px;top:795.80px">-</div>
<div class="c" style="left:781.9px;width:57.89999999999998px;top:795.80px">970</div>
<div class="c" style="left:841.8px;width:142.20000000000005px;top:795.80px">406</div>
<div class="c" style="left:19px;width:60.8px;top:817.55px">500*</div>
<div class="c" style="left:81.8px;width:63.2px;top:817.55px">25</div>
<div class="c k" style="left:149px;top:817.55px">КШ.Ц.П.GAS.500.025.П/П.02</div>
<div class="c" style="left:362.8px;width:58.0px;top:817.55px">500</div>
<div class="c" style="left:422.8px;width:57.69999999999999px;top:817.55px">530</div>
<div class="c" style="left:482.5px;width:57.700000000000045px;top:817.55px">10</div>
<div class="c" style="left:542.2px;width:57.799999999999955px;top:817.55px">820</div>
<div class="c" style="left:602px;width:57.89999999999998px;top:817.55px">264</div>
<div class="c" style="left:661.9px;width:58.0px;top:817.55px">-</div>
<div class="c" style="left:721.9px;width:58.0px;top:817.55px">-</div>
<div class="c" style="left:781.9px;width:57.89999999999998px;top:817.55px">1000</div>
<div class="c" style="left:841.8px;width:142.20000000000005px;top:817.55px">765</div>
<div class="g" style="left:19px;width:61.20px;top:838.50px;height:20.5px"></div>
<div class="g" style="left:81.39999999999999px;width:64.00px;top:838.50px;height:20.5px"></div>
<div class="g" style="left:146.6px;width:214.60px;top:838.50px;height:20.5px"></div>
<div class="g" style="left:362.40000000000003px;width:58.80px;top:838.50px;height:20.5px"></div>
<div class="g" style="left:422.40000000000003px;width:58.50px;top:838.50px;height:20.5px"></div>
<div class="g" style="left:482.1px;width:58.50px;top:838.50px;height:20.5px"></div>
<div class="g" style="left:541.8000000000001px;width:58.60px;top:838.50px;height:20.5px"></div>
<div class="g" style="left:601.6px;width:58.70px;top:838.50px;height:20.5px"></div>
<div class="g" style="left:661.5px;width:58.80px;top:838.50px;height:20.5px"></div>
<div class="g" style="left:721.5px;width:58.80px;top:838.50px;height:20.5px"></div>
<div class="g" style="left:781.5px;width:58.70px;top:838.50px;height:20.5px"></div>
<div class="g" style="left:841.4px;width:142.60px;top:838.50px;height:20.5px"></div>
<div class="c" style="left:19px;width:60.8px;top:839.30px">600*</div>
<div class="c" style="left:81.8px;width:63.2px;top:839.30px">25</div>
<div class="c k" style="left:149px;top:839.30px">КШ.Ц.П.GAS.600.025.П/П.02</div>
<div class="c" style="left:362.8px;width:58.0px;top:839.30px">600</div>
<div class="c" style="left:422.8px;width:57.69999999999999px;top:839.30px">630</div>
<div class="c" style="left:482.5px;width:57.700000000000045px;top:839.30px">10</div>
<div class="c" style="left:542.2px;width:57.799999999999955px;top:839.30px">1020</div>
<div class="c" style="left:602px;width:57.89999999999998px;top:839.30px">318</div>
<div class="c" style="left:661.9px;width:58.0px;top:839.30px">-</div>
<div class="c" style="left:721.9px;width:58.0px;top:839.30px">-</div>
<div class="c" style="left:781.9px;width:57.89999999999998px;top:839.30px">1150</div>
<div class="c" style="left:841.8px;width:142.20000000000005px;top:839.30px">1050</div>
<div class="c" style="left:19px;width:60.8px;top:861.05px">700*</div>
<div class="c" style="left:81.8px;width:63.2px;top:861.05px">25</div>
<div class="c k" style="left:149px;top:861.05px">КШ.Ц.П.GAS.700.025.П/П.02</div>
<div class="c" style="left:362.8px;width:58.0px;top:861.05px">700</div>
<div class="c" style="left:422.8px;width:57.69999999999999px;top:861.05px">720</div>
<div class="c" style="left:482.5px;width:57.700000000000045px;top:861.05px">10</div>
<div class="c" style="left:542.2px;width:57.799999999999955px;top:861.05px">1120</div>
<div class="c" style="left:602px;width:57.89999999999998px;top:861.05px">430</div>
<div class="c" style="left:661.9px;width:58.0px;top:861.05px">-</div>
<div class="c" style="left:721.9px;width:58.0px;top:861.05px">-</div>
<div class="c" style="left:781.9px;width:57.89999999999998px;top:861.05px">1346</div>
<div class="c" style="left:841.8px;width:142.20000000000005px;top:861.05px">2300</div>
<div class="fn">* Поставляется с редуктором в комплекте.</div>
</body></html>
